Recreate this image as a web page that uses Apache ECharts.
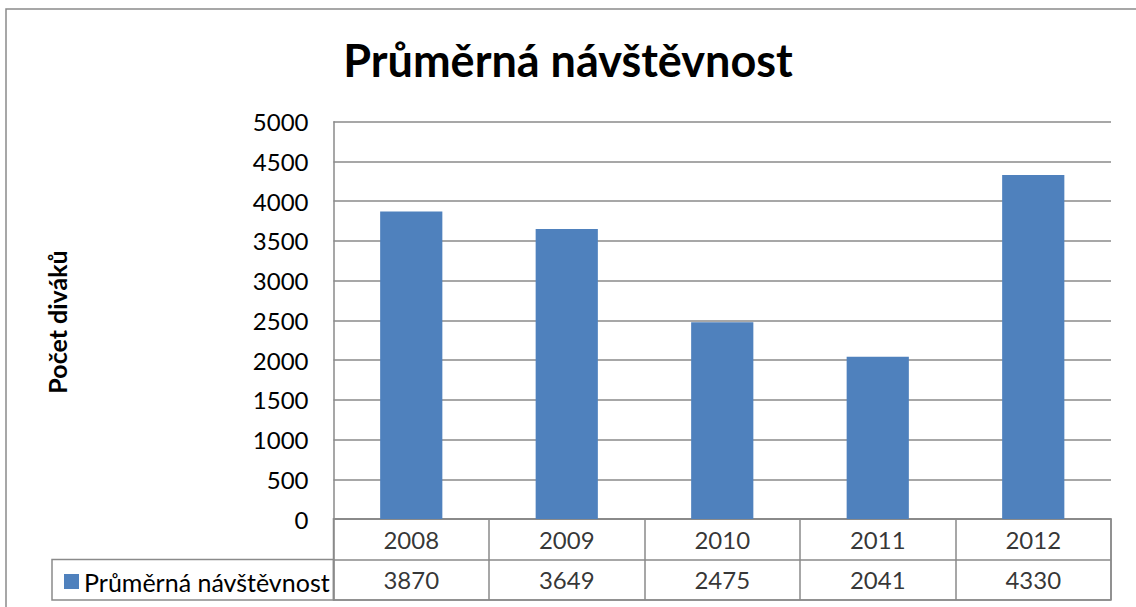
<!DOCTYPE html>
<html>
<head>
<meta charset="utf-8">
<script src="https://cdn.jsdelivr.net/npm/echarts@6/dist/echarts.min.js"></script>
<style>html,body{margin:0;padding:0;background:#fff}#c{width:1136px;height:607px}</style>
</head>
<body>
<div id="c"></div>
<script>
const titleText = 'Průměrná návštěvnost';
const yAxisTitle = 'Počet diváků';
const seriesName = 'Průměrná návštěvnost';
const categories = ['2008', '2009', '2010', '2011', '2012'];
const values = [3870, 3649, 2475, 2041, 4330];

const FONT = 'Lato';
const FS = 24;
const GRID_L = 333.5, GRID_W = 777.5;
const chart = echarts.init(document.getElementById('c'), null, {renderer: 'svg'});

const yearCells = categories.map((c, i) => ({value: [i, 1.5], label: {formatter: c}}));
const valueCells = values.map((v, i) => ({value: [i, 0.5], label: {formatter: String(v)}}));

chart.setOption({
  animation: false,
  textStyle: {fontFamily: FONT},
  title: {
    text: titleText, left: 'center', top: 32,
    textStyle: {fontFamily: FONT, fontWeight: 'bold', fontSize: 45, color: '#000'}
  },
  legend: {
    data: [seriesName], left: 59, top: 564, icon: 'rect', itemWidth: 15, itemHeight: 15, itemGap: 5,
    textStyle: {fontFamily: FONT, fontSize: 25, color: '#000'}
  },
  grid: [
    {left: GRID_L, top: 121.7, width: GRID_W, height: 397.3},
    {left: GRID_L, top: 519, width: GRID_W, height: 81, show: true, borderColor: '#8a8a8a', borderWidth: 1.5, backgroundColor: 'transparent'}
  ],
  xAxis: [
    {type: 'category', gridIndex: 0, data: categories, axisTick: {show: false}, axisLabel: {show: false},
     axisLine: {lineStyle: {color: '#8a8a8a', width: 1.5}}},
    {type: 'category', gridIndex: 1, data: categories, axisTick: {show: false}, axisLabel: {show: false},
     axisLine: {show: false}, splitLine: {show: true, lineStyle: {color: '#8a8a8a', width: 1.5}}}
  ],
  yAxis: [
    {type: 'value', gridIndex: 0, min: 0, max: 5000, interval: 500,
     axisLine: {show: true, lineStyle: {color: '#8a8a8a', width: 1.5}}, axisTick: {show: false},
     splitLine: {lineStyle: {color: '#8a8a8a', width: 1.5}},
     axisLabel: {color: '#000', fontSize: FS, fontFamily: FONT, margin: 25, formatter: v => String(v)}},
    {type: 'value', gridIndex: 1, min: 0, max: 2, interval: 1, axisLabel: {show: false},
     axisLine: {show: false}, axisTick: {show: false},
     splitLine: {show: true, lineStyle: {color: '#8a8a8a', width: 1.5}}}
  ],
  graphic: [
    {type: 'rect', shape: {x: 6, y: 9, width: 1300, height: 800}, style: {fill: 'none', stroke: '#8a8a8a', lineWidth: 1.5}, z: -10},
    {type: 'rect', shape: {x: 52, y: 559.5, width: GRID_L - 52, height: 40.5}, style: {fill: 'none', stroke: '#8a8a8a', lineWidth: 1.5}},
    {type: 'text', x: 57, y: 322, rotation: Math.PI / 2,
     style: {text: yAxisTitle, fontFamily: FONT, fontWeight: 'bold', fontSize: 25, fill: '#000', align: 'center', verticalAlign: 'middle'}}
  ],
  series: [
    {name: seriesName, type: 'bar', xAxisIndex: 0, yAxisIndex: 0, data: values, barWidth: '40%',
     itemStyle: {color: '#4F81BD'}},
    {name: 'years', type: 'scatter', xAxisIndex: 1, yAxisIndex: 1, symbolSize: 0, data: yearCells, silent: true,
     label: {show: true, position: 'inside', color: '#000', fontSize: FS, fontFamily: FONT}},
    {name: 'vals', type: 'scatter', xAxisIndex: 1, yAxisIndex: 1, symbolSize: 0, data: valueCells, silent: true,
     label: {show: true, position: 'inside', color: '#000', fontSize: FS, fontFamily: FONT}}
  ]
});
</script>
</body>
</html>
